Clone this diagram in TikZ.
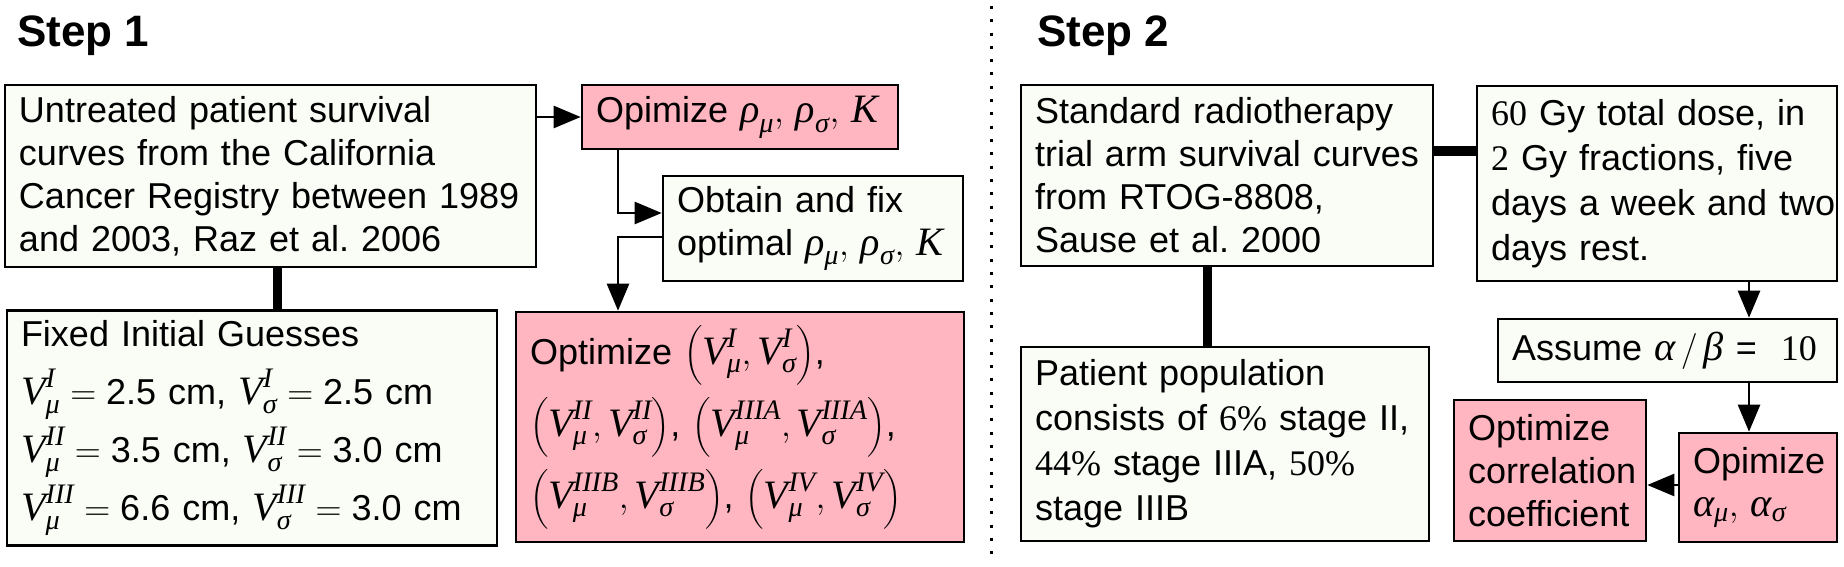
\RequirePackage{fix-cm}
\documentclass[tikz,border=0pt]{standalone}
\usepackage{amsmath}
\usepackage{fontspec}
\setmainfont{Liberation Sans}
\newfontfamily\mathfont[Scale=1.12]{Liberation Serif}
\newfontfamily\numfont{Liberation Serif}
\usetikzlibrary{arrows.meta}
\newcommand\mi[1]{\text{\mathfont\itshape #1}}
\newcommand\nm[1]{{\numfont #1}}
\newcommand\VV[2]{\mi{V}^{\mi{#1}}_{\mi{#2}}}
\definecolor{pinkfill}{RGB}{255,182,193}
\definecolor{lightfill}{RGB}{250,252,246}
\tikzset{
  box/.style={draw=black, line width=2.6pt, fill=lightfill, align=left,
    inner xsep=14pt, inner ysep=0pt, font=\fontsize{36}{43}\selectfont},
  pbox/.style={box, fill=pinkfill},
  arr/.style={line width=2.6pt, -{Triangle[length=27pt,width=22pt]}},
  thk/.style={line width=9pt},
  title/.style={font=\fontsize{44}{50}\selectfont\bfseries, anchor=base west, inner sep=0pt}
}
\frenchspacing
\begin{document}
\begin{tikzpicture}[x=1pt,y=-1pt]
\useasboundingbox (0,0) rectangle (1844,567);
\fill[white] (0,0) rectangle (1844,567);

\node[title] (t1) at (17,47) {Step 1};
\node[title] (t2) at (1037,47) {Step 2};
\coordinate (dtop) at (991,6);
\coordinate (dbot) at (991,562);
\draw[line width=3pt, dash pattern=on 3pt off 10.3pt] (dtop) -- (dbot);

% Step 1
\node[box, minimum width=531pt, minimum height=182pt, text width=503pt] (A) at (270.5,176)
 {\mbox{Untreated patient survival}\\ \mbox{curves from the California}\\ \mbox{Cancer Registry between 1989}\\ \mbox{and 2003, Raz et al. 2006}};
\node[box, minimum width=490pt, minimum height=235pt, text width=462pt,
  font=\fontsize{36}{58}\selectfont] (B) at (252,428)
 {\mbox{Fixed Initial Guesses}\\
  \mbox{$\VV{I}{μ} = \text{2.5 cm}$, $\VV{I}{σ} = \text{2.5 cm}$}\\
  \mbox{$\VV{II}{μ} = \text{3.5 cm}$, $\VV{II}{σ} = \text{3.0 cm}$}\\
  \mbox{$\VV{III}{μ} = \text{6.6 cm}$, $\VV{III}{σ} = \text{3.0 cm}$}};
\node[pbox, minimum width=316pt, minimum height=64pt, text width=288pt] (C) at (740,117)
 {\mbox{Opimize $\mi{ρ}_{\mi{μ}},\, \mi{ρ}_{\mi{σ}},\, \mi{K}$}};
\node[box, minimum width=300pt, minimum height=105pt, text width=272pt] (D) at (813,228.5)
 {\mbox{Obtain and fix}\\ \mbox{optimal $\mi{ρ}_{\mi{μ}},\, \mi{ρ}_{\mi{σ}},\, \mi{K}$}};
\node[pbox, minimum width=448pt, minimum height=230pt, text width=420pt,
  font=\fontsize{36}{72}\selectfont] (E) at (740,427)
 {\mbox{Optimize $\Bigl(\VV{I}{μ}, \VV{I}{σ}\Bigr)$,}\\
  \mbox{$\Bigl(\VV{II}{μ}, \VV{II}{σ}\Bigr)$, $\Bigl(\VV{IIIA}{μ}, \VV{IIIA}{σ}\Bigr)$,}\\
  \mbox{$\Bigl(\VV{IIIB}{μ}, \VV{IIIB}{σ}\Bigr)$, $\Bigl(\VV{IV}{μ}, \VV{IV}{σ}\Bigr)$}};

\draw[thk] ([xshift=6.5pt]A.south) -- ([xshift=6.5pt]A.south |- B.north);
\draw[arr] (A.east |- C.west) -- (C.west);
\draw[arr] ([xshift=-122pt]C.south) |- ([yshift=15.5pt]D.west);
\draw[arr] ([yshift=-8.5pt]D.west) -| ([xshift=-122pt]E.north);

% Step 2
\node[box, minimum width=412pt, minimum height=181pt, text width=384pt] (F) at (1227,175.5)
 {\mbox{Standard radiotherapy}\\ \mbox{trial arm survival curves}\\ \mbox{from RTOG-8808,}\\ \mbox{Sause et al. 2000}};
\node[box, minimum width=360pt, minimum height=195pt, text width=332pt,
  font=\fontsize{36}{45}\selectfont] (G) at (1657,183.5)
 {\mbox{\nm{60} Gy total dose, in}\\ \mbox{\nm{2} Gy fractions, five}\\ \mbox{days a week and two}\\ \mbox{days rest.}};
\node[box, minimum width=408pt, minimum height=194pt, text width=380pt,
  font=\fontsize{36}{45}\selectfont] (H) at (1225,444)
 {\mbox{Patient population}\\ \mbox{consists of \nm{6\%} stage II,}\\ \mbox{\nm{44\%} stage IIIA, \nm{50\%}}\\ \mbox{stage IIIB}};
\node[box, minimum width=339pt, minimum height=63pt, text width=311pt] (I) at (1667.5,350.5)
 {\mbox{Assume $\mi{α}\,/\,\mi{β}$ = \ \nm{10}}};
\node[pbox, minimum width=158pt, minimum height=109pt, text width=130pt] (J) at (1758,487.5)
 {\mbox{Opimize}\\ \mbox{$\mi{α}_{\mi{μ}},\, \mi{α}_{\mi{σ}}$}};
\node[pbox, minimum width=192pt, minimum height=141pt, text width=164pt] (K) at (1550,470.5)
 {\mbox{Optimize}\\ \mbox{correlation}\\ \mbox{coefficient}};

\draw[thk] ([yshift=24.5pt]F.east) -- ([yshift=24.5pt]F.east -| G.west);
\draw[thk] ([xshift=-20pt]F.south) -- ([xshift=-20pt]F.south |- H.north);
\draw[arr] ([xshift=92pt]G.south) -- ([xshift=92pt]G.south |- I.north);
\draw[arr] ([xshift=-9pt]J.north |- I.south) -- ([xshift=-9pt]J.north);
\draw[arr] ([yshift=2.5pt]J.west) -- ([yshift=2.5pt]J.west -| K.east);
\end{tikzpicture}
\end{document}
